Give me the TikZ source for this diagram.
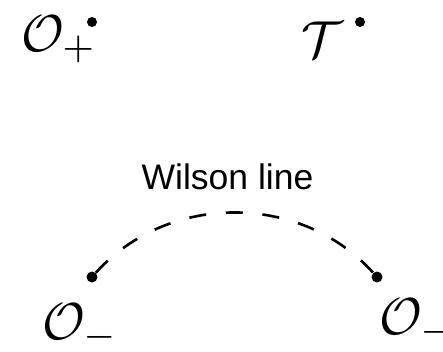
\documentclass[tikz,border=0pt]{standalone}
\usepackage{fontspec}
\newfontfamily\arialfont{Liberation Sans}
\begin{document}
\begin{tikzpicture}[x=1pt,y=1pt,
  lbl/.style={inner sep=0pt, anchor=base west, scale=5.2},
  topdot/.style={circle, fill=black, inner sep=0pt, minimum size=10pt},
  enddot/.style={circle, fill=black, inner sep=0pt, minimum size=11pt},
  wline/.style={line width=2.6pt, dash pattern=on 17pt off 19.75pt},
  wtext/.style={inner sep=0pt, anchor=base, font=\arialfont\fontsize{35.5}{40}\selectfont}]
\path[use as bounding box] (0,0) rectangle (443,-351);
\node[lbl] (op) at (20,-51) {$\mathcal{O}_+$};
\node[topdot] (opd) at (92,-22) {};
\node[lbl] (t) at (300,-57) {$\mathcal{T}$};
\node[topdot] (td) at (360,-22) {};
\node[wtext] (wl) at (227.5,-189.5) {Wilson line};
\node[enddot] (l) at (92,-277) {};
\node[enddot] (r) at (377,-277) {};
\draw[wline] (l) to[out=48,in=132] (r);
\node[lbl] (oml) at (41,-339) {$\mathcal{O}_-$};
\node[lbl] (omr) at (378,-334) {$\mathcal{O}_-$};
\end{tikzpicture}
\end{document}
